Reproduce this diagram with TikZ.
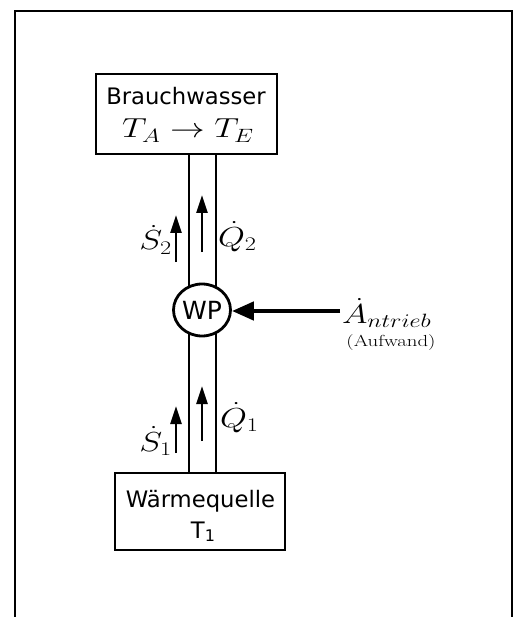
\documentclass[tikz,border=0pt]{standalone}
\usepackage{fix-cm}
\usepackage{fontspec}
\usepackage{graphicx}
\usetikzlibrary{arrows.meta,shapes.geometric}
\newfontfamily\dvs{DejaVu Sans}
\newcommand{\mlab}[1]{\scalebox{1.26}[1]{\fontsize{27.5}{32}\selectfont$#1$}}
\begin{document}
\begin{tikzpicture}[x=1pt,y=-1pt,
  framestyle/.style={line width=2.5pt,draw=black},
  boxstyle/.style={draw,line width=2.8pt,inner sep=0pt,outer sep=0pt},
  pipe/.style={line width=2.8pt},
  flow/.style={line width=2.5pt,-{Triangle[length=18pt,width=11pt]}},
  drive/.style={line width=4.5pt,-{Triangle[length=22pt,width=18pt]}},
  txt/.style={inner sep=0pt,outer sep=0pt},
  sans/.style={txt,font=\dvs\fontsize{22.7}{27}\selectfont}]
\useasboundingbox (0,0) rectangle (520,617);
% outer frame
\draw[framestyle] (15,618) -- (15,11) -- (512,11) -- (512,618);
% boxes
\node[boxstyle,minimum width=181pt,minimum height=80pt] (bw) at (186.5,114) {};
\node[boxstyle,minimum width=170pt,minimum height=77pt] (wq) at (200,511.5) {};
\node[sans,anchor=base] (bwt) at (186,105) {Brauchwasser};
\node[txt,anchor=base] (bwm) at (188,138) {\mlab{T_A\to T_E}};
\node[sans,anchor=base] (wqt) at (200.5,507) {Wärmequelle};
\node[sans,anchor=base] (wqs) at (203,538) {T\raisebox{-3.5pt}{\fontsize{16}{16}\selectfont 1}};
% pipes
\coordinate (pl) at (189,0);
\coordinate (pr) at (216,0);
\draw[pipe] (bw.south -| pl) -- (wq.north -| pl);
\draw[pipe] (bw.south -| pr) -- (wq.north -| pr);
% heat pump
\node[ellipse,draw,line width=2.8pt,fill=white,minimum width=57pt,minimum height=52pt,inner sep=0pt,
      font=\dvs\fontsize{25}{30}\selectfont] (wp) at (202,310) {WP};
% flow arrows
\coordinate (q2a) at (202,252); \coordinate (q2b) at (202,195);
\coordinate (s2a) at (176,262); \coordinate (s2b) at (176,215);
\coordinate (q1a) at (202,441); \coordinate (q1b) at (202,386);
\coordinate (s1a) at (176,453); \coordinate (s1b) at (176,406);
\draw[flow] (q2a) -- (q2b);
\draw[flow] (s2a) -- (s2b);
\draw[flow] (q1a) -- (q1b);
\draw[flow] (s1a) -- (s1b);
% labels
\node[txt,anchor=base east] (s2l) at (172,250) {\mlab{\dot{S}_2}};
\node[txt,anchor=base west] (q2l) at (218,246) {\mlab{\dot{Q}_2}};
\node[txt,anchor=base east] (s1l) at (172,451) {\mlab{\dot{S}_1}};
\node[txt,anchor=base west] (q1l) at (220,427) {\mlab{\dot{Q}_1}};
% drive
\node[txt,anchor=base west] (an) at (342,323) {\mlab{\dot{A}_{ntrieb}}};
\node[txt,anchor=base] (auf) at (391,346) {\scalebox{1.3}[1]{\fontsize{16}{18}\selectfont (Aufwand)}};
\coordinate (dst) at (340,311);
\draw[drive] (dst) -- (wp.east |- dst);
\end{tikzpicture}
\end{document}
